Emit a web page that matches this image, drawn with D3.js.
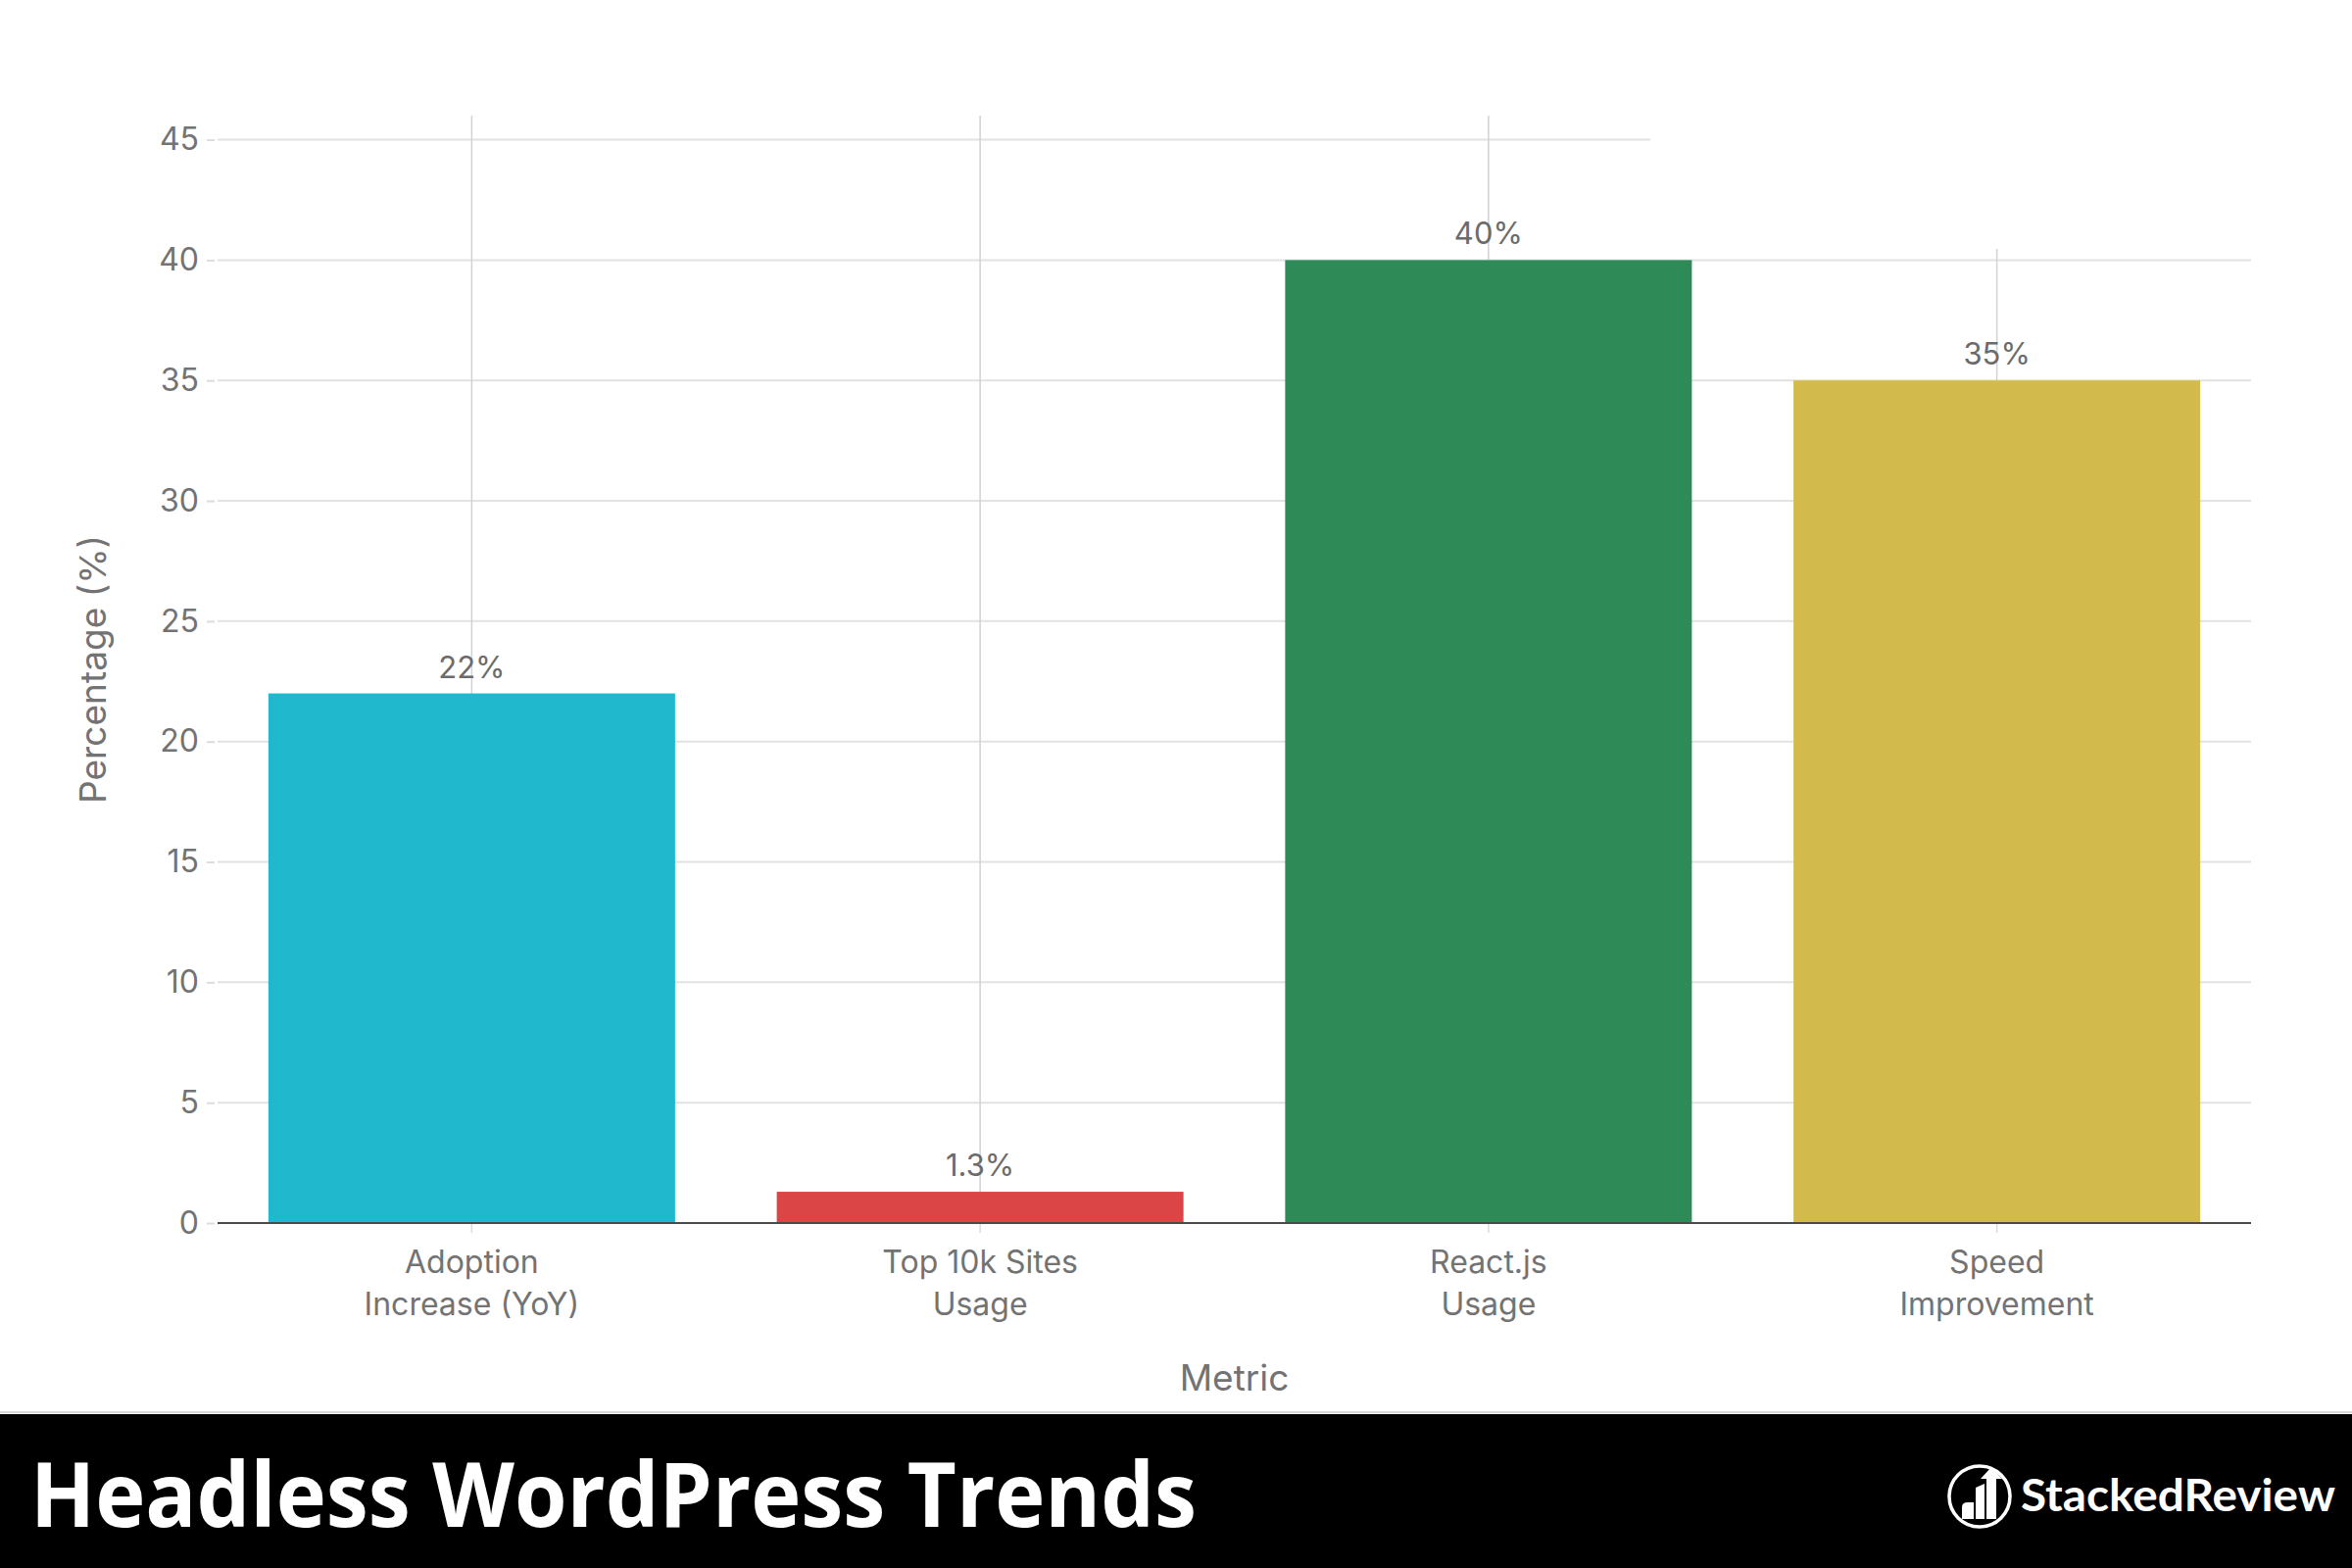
<!DOCTYPE html>
<html>
<head>
<meta charset="utf-8">
<script src="https://cdn.jsdelivr.net/npm/d3@7"></script>
<style>
  html, body { margin: 0; padding: 0; background: #fff; }
  svg { display: block; }
</style>
</head>
<body>
<script>
// ---- data ----
const categories = ["Adoption\nIncrease (YoY)", "Top 10k Sites\nUsage", "React.js\nUsage", "Speed\nImprovement"];
const values = [22, 1.3, 40, 35];
const valueLabels = ["22%", "1.3%", "40%", "35%"];
const barColors = ["#1FB8CD", "#DB4545", "#2E8B57", "#D2BA4C"];
const yTicks = [0, 5, 10, 15, 20, 25, 30, 35, 40, 45];
const xTitle = "Metric";
const yTitle = "Percentage (%)";
const bannerTitle = "Headless WordPress Trends";
const brandName = "StackedReview";

// ---- layout ----
const W = 2400, H = 1600;
const plotL = 222, plotR = 2297, plotB = 1248, plotT = 118;
const FONT = "Inter, 'Noto Sans', sans-serif";
const textGray = "#737373";

const svg = d3.select("body").append("svg").attr("width", W).attr("height", H);
svg.append("rect").attr("width", W).attr("height", H).attr("fill", "#fff");

const x = d3.scaleBand().domain(categories).range([plotL, plotR]).paddingInner(0.2).paddingOuter(0.1);
const y = d3.scaleLinear().domain([0, 46]).range([plotB, plotT]);

// horizontal gridlines
svg.append("g").selectAll("line").data(yTicks.filter(d => d > 0)).join("line")
  .attr("x1", plotL).attr("x2", plotR)
  .attr("y1", d => y(d)).attr("y2", d => y(d))
  .attr("stroke", "#e2e2e2").attr("stroke-width", 2);

// vertical gridlines at category centres
svg.append("g").selectAll("line").data(categories).join("line")
  .attr("x1", d => x(d) + x.bandwidth() / 2).attr("x2", d => x(d) + x.bandwidth() / 2)
  .attr("y1", plotT).attr("y2", plotB)
  .attr("stroke", "#d2d2d2").attr("stroke-width", 1.5);

// white patch in the top-right (as in the reference)
svg.append("rect").attr("x", 1684).attr("y", 0).attr("width", W - 1684).attr("height", 254).attr("fill", "#fff");

// bars
svg.append("g").selectAll("rect").data(values).join("rect")
  .attr("x", (d, i) => x(categories[i]))
  .attr("width", x.bandwidth())
  .attr("y", d => y(d))
  .attr("height", d => y(0) - y(d))
  .attr("fill", (d, i) => barColors[i]);

// value labels
svg.append("g").selectAll("text").data(values).join("text")
  .attr("x", (d, i) => x(categories[i]) + x.bandwidth() / 2)
  .attr("y", d => y(d) - 16)
  .attr("text-anchor", "middle")
  .attr("font-family", FONT).attr("font-size", 31)
  .attr("fill", "#6b6b6b")
  .text((d, i) => valueLabels[i]);

// y axis
const yAxis = svg.append("g").attr("transform", `translate(219,0)`)
  .call(d3.axisLeft(y).tickValues(yTicks).tickSize(8).tickPadding(8).tickFormat(d3.format("d")));
yAxis.select(".domain").remove();
yAxis.selectAll(".tick line").attr("stroke", "#dcdcdc").attr("stroke-width", 2);
yAxis.selectAll(".tick text").attr("font-family", FONT).attr("font-size", 32).attr("fill", textGray);

// x axis
const xAxis = svg.append("g").attr("transform", `translate(0,${plotB})`)
  .call(d3.axisBottom(x).tickSize(10).tickFormat(""));
xAxis.select(".domain").remove();
xAxis.selectAll(".tick line").attr("stroke", "#dcdcdc").attr("stroke-width", 1.5);
xAxis.selectAll(".tick").each(function(d) {
  const t = d3.select(this).append("text")
    .attr("text-anchor", "middle")
    .attr("font-family", FONT).attr("font-size", 32)
    .attr("fill", textGray);
  d.split("\n").forEach((line, i) => {
    t.append("tspan").attr("x", 0).attr("y", 51 + i * 43).text(line);
  });
});

// baseline
svg.append("line").attr("x1", plotL).attr("x2", plotR)
  .attr("y1", y(0)).attr("y2", y(0))
  .attr("stroke", "#4a4a4a").attr("stroke-width", 2);

// axis titles
svg.append("text").attr("x", (plotL + plotR) / 2).attr("y", 1419)
  .attr("text-anchor", "middle").attr("font-family", FONT).attr("font-size", 37)
  .attr("fill", textGray).text(xTitle);
svg.append("text")
  .attr("transform", `translate(108,683) rotate(-90)`)
  .attr("text-anchor", "middle").attr("font-family", FONT).attr("font-size", 37)
  .attr("fill", textGray).text(yTitle);

// banner
svg.append("line").attr("x1", 0).attr("x2", W).attr("y1", 1441).attr("y2", 1441)
  .attr("stroke", "#d8d8d8").attr("stroke-width", 2);
svg.append("rect").attr("x", 0).attr("y", 1443).attr("width", W).attr("height", H - 1443).attr("fill", "#000");
svg.append("text").attr("x", 31).attr("y", 1558)
  .attr("font-family", "'Open Sans', 'Noto Sans', sans-serif").attr("font-weight", 700)
  .attr("font-size", 92).attr("fill", "#fff")
  .attr("textLength", 1190).attr("lengthAdjust", "spacingAndGlyphs")
  .text(bannerTitle);

// brand logo
const logo = svg.append("g");
logo.append("circle").attr("cx", 2020).attr("cy", 1527).attr("r", 31)
  .attr("fill", "none").attr("stroke", "#fff").attr("stroke-width", 3.5);
logo.append("path").attr("d", "M2002,1550 L2002,1538 Q2002,1533 2008,1533 L2014,1533 L2014,1550 Z").attr("fill", "#fff");
logo.append("path").attr("d", "M2016,1550 L2016,1518 L2025,1514 L2025,1550 Z").attr("fill", "#fff");
logo.append("path").attr("d", "M2027,1550 L2027,1509 L2021,1509 L2032,1497 L2043,1509 L2037,1509 L2037,1550 Z").attr("fill", "#fff");
logo.append("text").attr("x", 2062).attr("y", 1542)
  .attr("font-family", "Lato, 'Open Sans', sans-serif").attr("font-weight", 700)
  .attr("font-size", 45).attr("fill", "#fff")
  .attr("textLength", 321).attr("lengthAdjust", "spacingAndGlyphs")
  .text(brandName);
</script>
</body>
</html>
